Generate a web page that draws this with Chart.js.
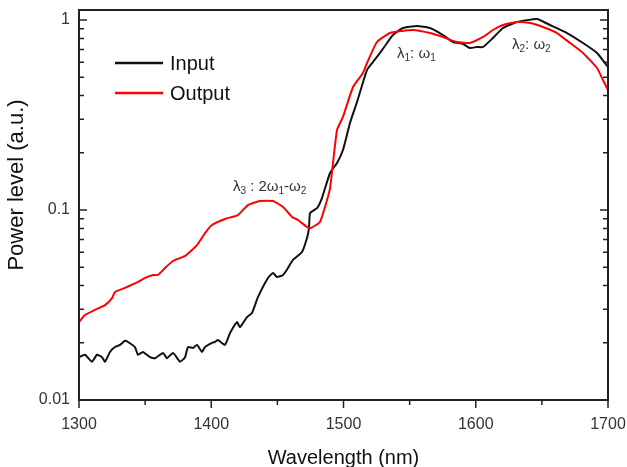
<!DOCTYPE html>
<html>
<head>
<meta charset="utf-8">
<script src="https://cdn.jsdelivr.net/npm/chart.js@4.4.1/dist/chart.umd.min.js"></script>
<style>
  html, body { margin: 0; padding: 0; background: #fff; }
  #wrap { width: 627px; height: 467px; }
</style>
</head>
<body>
<div id="wrap"><canvas id="chart" width="627" height="467"></canvas></div>
<script>
// ========== data ==========
const inputWavelength = [1300, 1304.5, 1309.8, 1313.6, 1317.4, 1319.7, 1323.4, 1327.2, 1331, 1334.8,
  1337.1, 1342.3, 1344.6, 1348.4, 1353.7, 1357.5, 1363.5, 1366.5, 1371.1, 1376.4,
  1380.2, 1382.4, 1386.2, 1389.2, 1393, 1395.3, 1400.6, 1402.8, 1405.1, 1410.4,
  1414.2, 1419.5, 1421.7, 1427, 1430.8, 1435.3, 1442.9, 1446.7, 1449.7, 1454.3,
  1458, 1461.8, 1468.6, 1472.4, 1473.9, 1474.7, 1480, 1483.7, 1489.8, 1495.1,
  1499.6, 1504.9, 1510.2, 1517.8, 1522.3, 1527.6, 1532.9, 1537.4, 1545, 1555.6,
  1565.4, 1575.2, 1582.8, 1590.4, 1595.6, 1600.9, 1605.5, 1613, 1620.6, 1631.2,
  1646.3, 1656.1, 1669, 1681.1, 1691.7, 1700];
const inputPower = [0.0168, 0.0173, 0.0159, 0.0173, 0.0168, 0.0159, 0.0179, 0.0190, 0.0195, 0.0205,
  0.0202, 0.0190, 0.0173, 0.0179, 0.0168, 0.0166, 0.0177, 0.0166, 0.0177, 0.0159,
  0.0168, 0.0190, 0.0188, 0.0195, 0.0179, 0.0190, 0.0200, 0.0202, 0.0207, 0.0195,
  0.0225, 0.0257, 0.0242, 0.0273, 0.0287, 0.0348, 0.0439, 0.0466, 0.0444, 0.0455,
  0.0495, 0.0546, 0.0601, 0.0712, 0.0804, 0.0964, 0.1024, 0.1156, 0.1566, 0.1768,
  0.2069, 0.287, 0.370, 0.546, 0.601, 0.671, 0.757, 0.834, 0.908, 0.930,
  0.908, 0.834, 0.766, 0.748, 0.712, 0.721, 0.721, 0.804, 0.908, 0.976,
  1.012, 0.941, 0.854, 0.757, 0.671, 0.566];

const outputWavelength = [1300, 1304.5, 1312.1, 1319.7, 1325, 1327.2, 1334.8, 1344.6, 1349.9, 1356,
  1359.7, 1365, 1371.1, 1380.2, 1389.2, 1395.3, 1400.6, 1410.4, 1420.2, 1427.8,
  1436.9, 1446.7, 1454.3, 1461.1, 1465.6, 1472.4, 1475.4, 1482.2, 1486, 1489.8,
  1495.1, 1499.6, 1507.2, 1514.7, 1517.8, 1525.3, 1535.2, 1544.2, 1552.6, 1565.4,
  1575.2, 1585.8, 1595.6, 1605.5, 1613, 1620.6, 1631.2, 1641, 1650.8, 1661.4,
  1671.3, 1681.1, 1691.7, 1696.2, 1700];
const outputPower = [0.0257, 0.0280, 0.0298, 0.0316, 0.0344, 0.0370, 0.0389, 0.0418, 0.0439, 0.0455,
  0.0455, 0.0495, 0.0539, 0.0573, 0.0654, 0.0756, 0.0834, 0.0897, 0.0941, 0.1062,
  0.1115, 0.1115, 0.1037, 0.0919, 0.0886, 0.0814, 0.0804, 0.0865, 0.1037, 0.130,
  0.264, 0.309, 0.444, 0.526, 0.594, 0.766, 0.854, 0.875, 0.886, 0.854,
  0.814, 0.766, 0.757, 0.814, 0.886, 0.941, 0.976, 0.964, 0.919, 0.854,
  0.757, 0.671, 0.559, 0.483, 0.428];

const seriesNames = ["Input", "Output"];
const seriesColors = ["#111111", "#ff0000"];
const xTicks = [1300, 1400, 1500, 1600, 1700];
const yTicks = [0.01, 0.1, 1];

// annotation labels: [wavelength, power, parts]  parts = [text, isSubscript]
const peakLabels = [
  [1416.4, 0.132, [["λ", 0], ["3", 1], [" : 2ω", 0], ["1", 1], ["-ω", 0], ["2", 1]]],
  [1540.5, 0.663, [["λ", 0], ["1", 1], [": ω", 0], ["1", 1]]],
  [1627.4, 0.739, [["λ", 0], ["2", 1], [": ω", 0], ["2", 1]]]
];

const FONT = "'Liberation Sans', Arial, Helvetica, sans-serif";

function toPoints(xs, ys) {
  return xs.map((x, i) => ({ x: x, y: ys[i] }));
}

// ========== frame, ticks, legend, labels ==========
const decorPlugin = {
  id: 'decor',
  afterDatasetsDraw(chart) {
    const ctx = chart.ctx;
    const a = chart.chartArea;
    const xs = chart.scales.x;
    const ys = chart.scales.y;
    ctx.save();

    // frame
    ctx.strokeStyle = '#222';
    ctx.lineWidth = 2;
    ctx.strokeRect(a.left, a.top, a.right - a.left, a.bottom - a.top);

    // x ticks (outward)
    ctx.lineWidth = 1.5;
    for (let v = xs.min; v <= xs.max; v += 50) {
      const px = xs.getPixelForValue(v);
      const len = (v % 100 === 0) ? 8 : 5;
      ctx.beginPath();
      ctx.moveTo(px, a.bottom);
      ctx.lineTo(px, a.bottom + len);
      ctx.stroke();
    }

    // y ticks (inward, left + right)
    for (let k = 0; k < yTicks.length; k++) {
      const d = yTicks[k];
      for (let m = 1; m <= 9; m++) {
        const v = d * m;
        if (v > ys.max * 0.999) break;
        const py = ys.getPixelForValue(v);
        const len = (m === 1) ? 8 : 5;
        ctx.beginPath();
        ctx.moveTo(a.left, py);
        ctx.lineTo(a.left + len, py);
        ctx.moveTo(a.right, py);
        ctx.lineTo(a.right - len, py);
        ctx.stroke();
      }
    }

    // legend
    ctx.font = '20px ' + FONT;
    ctx.textBaseline = 'middle';
    ctx.textAlign = 'left';
    chart.data.datasets.forEach((ds, i) => {
      const ly = a.top + 53 + i * 30;
      ctx.strokeStyle = ds.borderColor;
      ctx.lineWidth = 2.5;
      ctx.beginPath();
      ctx.moveTo(a.left + 36, ly);
      ctx.lineTo(a.left + 84, ly);
      ctx.stroke();
      ctx.fillStyle = '#111';
      ctx.fillText(ds.label, a.left + 91, ly + 1);
    });

    // peak labels
    ctx.fillStyle = '#333';
    peakLabels.forEach(lbl => {
      let px = xs.getPixelForValue(lbl[0]);
      const py = ys.getPixelForValue(lbl[1]);
      lbl[2].forEach(part => {
        if (part[1]) {
          ctx.font = '10px ' + FONT;
          ctx.fillText(part[0], px, py + 4);
        } else {
          ctx.font = '15px ' + FONT;
          ctx.fillText(part[0], px, py);
        }
        px += ctx.measureText(part[0]).width;
      });
    });

    // y axis title
    ctx.font = '22px ' + FONT;
    ctx.fillStyle = '#111';
    ctx.textAlign = 'center';
    ctx.translate(17, 185);
    ctx.rotate(-Math.PI / 2);
    ctx.fillText('Power level (a.u.)', 0, 0);

    ctx.restore();
  }
};

// ========== chart ==========
new Chart(document.getElementById('chart').getContext('2d'), {
  type: 'line',
  data: {
    datasets: [
      {
        label: seriesNames[0],
        data: toPoints(inputWavelength, inputPower),
        borderColor: seriesColors[0],
        borderWidth: 2,
        pointRadius: 0,
        tension: 0.15,
        fill: false,
        order: 1
      },
      {
        label: seriesNames[1],
        data: toPoints(outputWavelength, outputPower),
        borderColor: seriesColors[1],
        borderWidth: 2,
        pointRadius: 0,
        tension: 0.15,
        fill: false,
        order: 0
      }
    ]
  },
  options: {
    responsive: false,
    animation: false,
    layout: { padding: { left: 0, right: 19, top: 10, bottom: 0 } },
    plugins: {
      legend: { display: false },
      tooltip: { enabled: false }
    },
    scales: {
      x: {
        type: 'linear',
        min: 1300,
        max: 1700,
        afterBuildTicks: s => { s.ticks = xTicks.map(v => ({ value: v })); },
        afterFit: s => { s.height = 67; s.paddingLeft = 0; s.paddingRight = 0; },
        grid: { display: false, drawTicks: false },
        border: { display: false },
        ticks: {
          padding: 15,
          color: '#333',
          font: { family: FONT, size: 16 },
          maxRotation: 0,
          callback: v => String(v)
        },
        title: {
          display: true,
          text: 'Wavelength (nm)',
          color: '#111',
          font: { family: FONT, size: 20, lineHeight: 1 },
          padding: { top: 0, bottom: -1 }
        }
      },
      y: {
        type: 'logarithmic',
        min: 0.01,
        max: 1.129,
        afterBuildTicks: s => { s.ticks = yTicks.map(v => ({ value: v })); },
        afterFit: s => { s.width = 79; s.paddingTop = 0; s.paddingBottom = 0; },
        grid: { display: false, drawTicks: false },
        border: { display: false },
        ticks: {
          padding: 9,
          color: '#333',
          font: { family: FONT, size: 16 },
          callback: v => String(v)
        }
      }
    }
  },
  plugins: [decorPlugin]
});
</script>
</body>
</html>
